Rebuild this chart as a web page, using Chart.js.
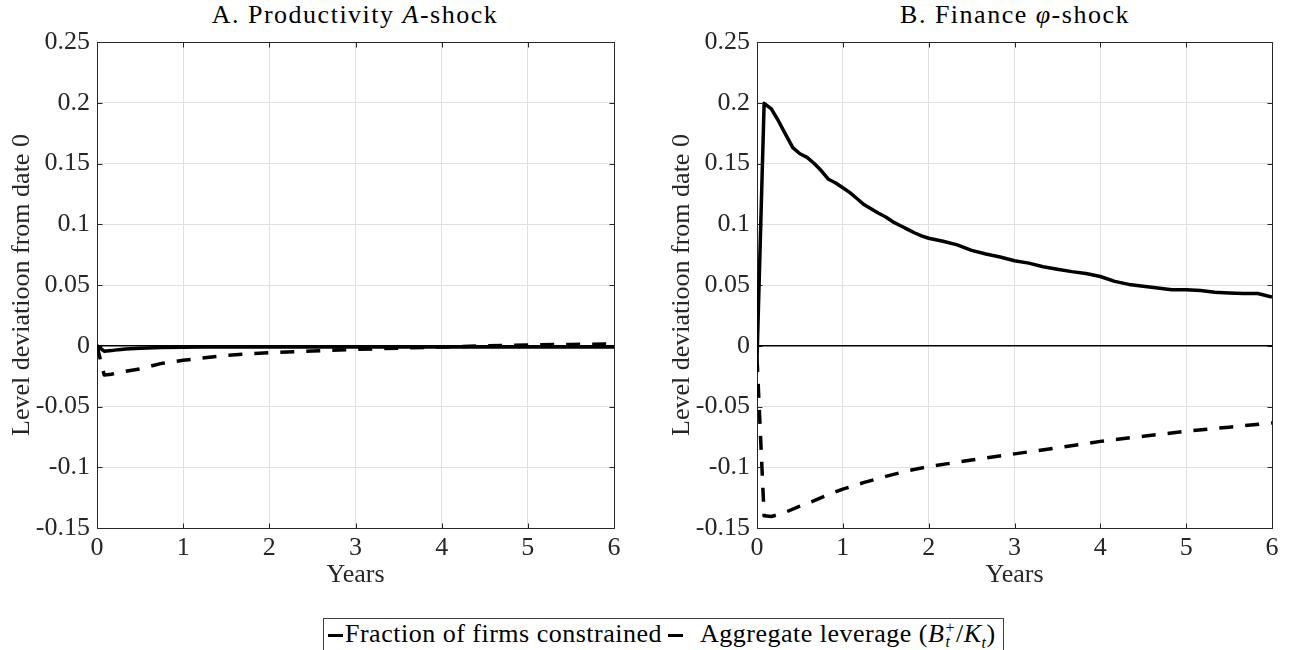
<!DOCTYPE html>
<html><head><meta charset="utf-8">
<script src="https://cdn.jsdelivr.net/npm/chart.js@4.4.1/dist/chart.umd.min.js"></script>
<style>
html,body{margin:0;padding:0;background:#fff;width:1289px;height:650px;overflow:hidden;position:relative;font-family:"Liberation Serif","DejaVu Serif",serif;color:#000}
canvas{position:absolute;top:0}
.ttl{position:absolute;top:2px;width:500px;text-align:center;font-size:26px;line-height:26px;white-space:nowrap;color:#000;letter-spacing:1.5px}
#legend{position:absolute;left:323px;top:618px;width:681px;height:40px;border:1px solid #404040;box-sizing:border-box;font-size:26px;line-height:26px;color:#000;background:#fff;letter-spacing:0.5px}
#legend .tok{position:absolute;height:0;top:15px}
#legend .txt{position:absolute;top:2px;white-space:nowrap}
.ss{display:inline-flex;flex-direction:column;vertical-align:middle;font-size:16px;line-height:14px;margin-left:1px;margin-right:1px;position:relative;top:-1px}
sub{font-size:16px;line-height:0}
</style>
</head><body>
<div class="ttl" style="left:105px">A. Productivity <i>A</i>-shock</div>
<div class="ttl" style="left:765px">B. Finance <i>φ</i>-shock</div>
<canvas id="cA" width="645" height="600" style="left:0px;width:645px;height:600px"></canvas>
<canvas id="cB" width="629" height="600" style="left:660px;width:629px;height:600px"></canvas>
<div id="legend">
  <div class="tok" style="left:4px;width:15px;border-top:3.5px solid #000"></div>
  <div class="txt" style="left:21px" id="lg1"></div>
  <div class="tok" style="left:344px;width:15px;border-top:3.5px solid #000"></div>
  <div class="txt" style="left:376px" id="lg2">Aggregate leverage (<i>B</i><span class="ss"><span>+</span><span><i>t</i></span></span>/<i>K</i><sub><i>t</i></sub>)</div>
</div>
<script>
// ---- data ----
const xTickValues = [0, 1, 2, 3, 4, 5, 6];
const xTickLabels = ['0', '1', '2', '3', '4', '5', '6'];
const yTickValues = [-0.15, -0.1, -0.05, 0, 0.05, 0.1, 0.15, 0.2, 0.25];
const yTickLabels = ['-0.15', '-0.1', '-0.05', '0', '0.05', '0.1', '0.15', '0.2', '0.25'];
const seriesNames = ['Fraction of firms constrained', 'Aggregate leverage (B_t^+/K_t)'];
const axisTitleY = 'Level deviatioon from date 0';
const axisTitleX = 'Years';

// Panel A: productivity shock
const yearsA = [0, 0.083, 0.167, 0.25, 0.333, 0.5, 0.75, 1, 1.25, 1.5, 1.75, 2, 2.5, 3, 3.5, 4, 4.5, 5, 5.5, 6];
const fracA  = [0, -0.0045, -0.004, -0.0032, -0.0026, -0.002, -0.0015, -0.0012, -0.001, -0.001, -0.001, -0.001, -0.001, -0.001, -0.001, -0.001, -0.001, -0.001, -0.001, -0.001];
const levA   = [0, -0.024, -0.0235, -0.022, -0.021, -0.019, -0.0145, -0.012, -0.0098, -0.008, -0.0067, -0.0057, -0.0043, -0.003, -0.002, -0.001, -0.0001, 0.0007, 0.0011, 0.0015];

// Panel B: finance shock
const yearsBFrac = [0, 0.083, 0.167, 0.25, 0.333, 0.417, 0.5, 0.583, 0.667, 0.75, 0.833, 0.917, 1.0, 1.083, 1.167, 1.25, 1.333, 1.417, 1.5, 1.583, 1.667, 1.75, 1.833, 1.917, 2.0, 2.167, 2.333, 2.5, 2.667, 2.833, 3.0, 3.167, 3.333, 3.5, 3.667, 3.833, 4.0, 4.167, 4.333, 4.5, 4.667, 4.833, 5.0, 5.167, 5.333, 5.5, 5.667, 5.833, 6.0];
const fracB = [-0.011, 0.1995, 0.195, 0.185, 0.174, 0.163, 0.158, 0.155, 0.150, 0.144, 0.137, 0.134, 0.130, 0.126, 0.121, 0.116, 0.1125, 0.109, 0.106, 0.102, 0.099, 0.096, 0.093, 0.0905, 0.0885, 0.086, 0.083, 0.0785, 0.0755, 0.073, 0.070, 0.068, 0.065, 0.063, 0.061, 0.0595, 0.057, 0.053, 0.0505, 0.049, 0.0475, 0.046, 0.046, 0.0455, 0.044, 0.0435, 0.043, 0.043, 0.040];
const yearsBLev = [0, 0.083, 0.167, 0.25, 0.333, 0.5, 0.667, 0.833, 1.0, 1.25, 1.5, 1.75, 2.0, 2.5, 3.0, 3.5, 4.0, 4.5, 5.0, 5.5, 6.0];
const levB = [-0.01, -0.140, -0.1405, -0.139, -0.137, -0.132, -0.1275, -0.1225, -0.118, -0.1125, -0.1075, -0.103, -0.0995, -0.094, -0.089, -0.084, -0.0787, -0.0745, -0.0704, -0.067, -0.0635];

// reference line at zero
const zeroX = [0, 6];
const zeroY = [0, 0];

// ---- chart construction ----
const FONT = '"Liberation Serif", "DejaVu Serif", serif';
const FS = 26;
const AXC = '#262626';
const pts = (xs, ys) => xs.map((x, i) => ({x: x, y: ys[i]}));

document.getElementById('lg1').textContent = seriesNames[0];

const boxTicks = {
  id: 'boxTicks',
  beforeDatasetsDraw(chart) {
    const {ctx, chartArea: {left, right, top, bottom}, scales: {x, y}} = chart;
    const L = 5;
    ctx.save();
    ctx.strokeStyle = AXC;
    ctx.lineWidth = 1;
    ctx.beginPath();
    const l = Math.round(left) + 0.5, r = Math.round(right) + 0.5, t = Math.round(top) + 0.5, b = Math.round(bottom) + 0.5;
    ctx.rect(l, t, r - l, b - t);
    xTickValues.forEach(v => {
      const p = Math.round(x.getPixelForValue(v)) + 0.5;
      ctx.moveTo(p, b); ctx.lineTo(p, b - L);
      ctx.moveTo(p, t); ctx.lineTo(p, t + L);
    });
    yTickValues.forEach(v => {
      const p = Math.round(y.getPixelForValue(v)) + 0.5;
      ctx.moveTo(l, p); ctx.lineTo(l + L, p);
      ctx.moveTo(r, p); ctx.lineTo(r - L, p);
    });
    ctx.stroke();
    ctx.restore();
  }
};

function makePanel(id, fracYears, frac, levYears, lev, rightPad) {
  return new Chart(document.getElementById(id), {
    type: 'line',
    data: {
      datasets: [
        {label: 'zero', data: pts(zeroX, zeroY), borderColor: '#000', borderWidth: 1.5, pointRadius: 0, order: 3},
        {label: seriesNames[1], data: pts(levYears, lev), borderColor: '#000', borderWidth: 3.5, borderDash: [14, 12], pointRadius: 0, tension: 0, borderJoinStyle: 'round', order: 2},
        {label: seriesNames[0], data: pts(fracYears, frac), borderColor: '#000', borderWidth: 3.5, pointRadius: 0, tension: 0, borderJoinStyle: 'round', order: 1}
      ]
    },
    options: {
      responsive: false,
      animation: false,
      devicePixelRatio: 1,
      layout: {padding: {top: 42, right: rightPad, left: 0, bottom: 0}},
      plugins: {legend: {display: false}, tooltip: {enabled: false}, title: {display: false}},
      scales: {
        x: {
          type: 'linear', min: 0, max: 6,
          afterFit: s => { s.height = 72; },
          afterBuildTicks: s => { s.ticks = xTickValues.map(v => ({value: v})); },
          grid: {color: '#e0e0e0', lineWidth: 1, drawTicks: false},
          border: {display: false},
          ticks: {color: AXC, font: {family: FONT, size: FS}, padding: 5, maxRotation: 0, autoSkip: false,
                  callback: (v, i) => xTickLabels[i]},
          title: {display: true, text: axisTitleX, color: AXC, font: {family: FONT, size: FS}, padding: {top: 0, bottom: 9}}
        },
        y: {
          type: 'linear', min: -0.15, max: 0.25,
          afterFit: s => { s.width = 97; },
          afterBuildTicks: s => { s.ticks = yTickValues.map(v => ({value: v})); },
          grid: {color: '#e0e0e0', lineWidth: 1, drawTicks: false},
          border: {display: false},
          ticks: {color: AXC, font: {family: FONT, size: FS}, padding: 7, autoSkip: false,
                  callback: (v, i) => yTickLabels[i]},
          title: {display: true, text: axisTitleY, color: AXC, font: {family: FONT, size: FS}, padding: {top: 7, bottom: 0}}
        }
      }
    },
    plugins: [boxTicks]
  });
}

makePanel('cA', yearsA, fracA, yearsA, levA, 31);
makePanel('cB', yearsBFrac, fracB, yearsBLev, levB, 17);
</script>
</body></html>
